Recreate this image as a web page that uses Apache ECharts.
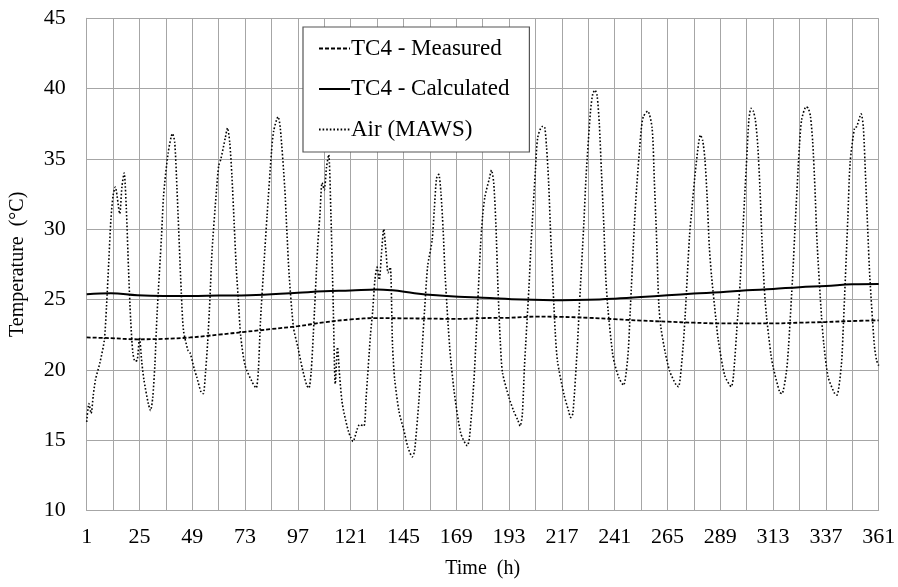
<!DOCTYPE html>
<html>
<head>
<meta charset="utf-8">
<script src="https://cdn.jsdelivr.net/npm/echarts@6/dist/echarts.min.js"></script>
<style>html,body{margin:0;padding:0;background:#fff}#c{width:898px;height:587px}</style>
</head>
<body>
<div id="c"></div>
<script>
// Tick labels of the time axis (hours)
const timeTicks = [1, 25, 49, 73, 97, 121, 145, 169, 193, 217, 241, 265, 289, 313, 337, 361];

// TC4 - Measured (hour, °C)
const measuredTime = [1, 12, 24, 36, 48, 61, 73, 85, 97, 109, 121, 133, 145, 157, 169, 181, 193, 205, 217, 229, 241, 253, 265, 277, 289, 301, 313, 325, 337, 349, 361];
const measuredTemp = [22.3, 22.25, 22.17, 22.2, 22.3, 22.5, 22.7, 22.9, 23.1, 23.38, 23.58, 23.68, 23.66, 23.64, 23.62, 23.68, 23.7, 23.78, 23.76, 23.7, 23.6, 23.5, 23.42, 23.35, 23.3, 23.3, 23.3, 23.35, 23.4, 23.47, 23.52];

// TC4 - Calculated (hour, °C)
const calcTime = [1, 12, 24, 36, 48, 61, 75, 97, 109, 121, 133, 140, 150, 160, 170, 181, 199, 217, 229, 241, 253, 265, 277, 289, 301, 313, 325, 337, 349, 361];
const calcTemp = [25.37, 25.44, 25.3, 25.25, 25.25, 25.28, 25.3, 25.48, 25.58, 25.64, 25.72, 25.65, 25.45, 25.3, 25.2, 25.13, 25.0, 24.95, 24.98, 25.06, 25.17, 25.3, 25.42, 25.52, 25.65, 25.75, 25.88, 25.96, 26.08, 26.1];

// Air (MAWS) (hour, °C)
const airTime = [1,2,3,4,5,7,9,10,11,12,13,14,16,17,18,19,20,21,22,23,24,25,26,27,29,30,31,32,33,35,36,38,40,41,42,44,45,47,48,50,51,53,54,55,56,57,58,60,61,62,64,65,66,67,68,69,70,71,73,76,78,79,80,82,83,85,86,88,89,91,92,93,95,97,99,101,102,103,104,106,107,108,109,110,111,112,113,114,115,116,117,118,120,121,122,124,125,127,128,130,131,132,133,134,135,136,137,138,139,140,141,143,145,147,149,150,152,153,155,156,158,159,160,161,162,163,164,166,168,171,174,175,177,178,180,181,182,184,185,186,187,188,189,190,193,195,197,198,199,200,202,203,205,206,208,209,210,211,212,214,215,218,220,221,222,224,225,227,228,230,231,232,233,234,235,236,237,238,240,241,243,245,247,248,250,251,253,254,256,258,259,260,261,262,264,266,269,270,272,273,275,276,278,280,281,282,283,284,285,287,288,291,294,295,297,298,300,301,302,303,304,305,306,307,308,309,310,312,313,316,317,319,320,322,323,325,326,328,329,330,331,332,333,335,336,338,341,342,344,345,347,348,350,351,353,354,355,356,357,359,360,361];
const airTemp = [16.3,17.6,16.9,18.2,19.3,20.5,22.1,24.5,27.6,30.7,32.4,33.0,31.1,33.0,34.0,31.5,27.2,23.5,21.2,20.6,20.7,22.3,20.6,19.3,17.6,17.1,18.0,20.4,24.0,29.5,32.5,35.4,36.8,36.2,33.0,25.5,22.8,21.4,21.2,20.0,19.5,18.4,18.3,19.8,22.0,25.0,28.5,32.8,34.5,35.0,36.5,37.2,36.2,33.8,30.5,27.2,24.8,22.4,20.3,19.2,18.7,19.9,23.5,28.6,31.0,35.5,37.0,38.0,37.2,33.0,29.8,26.8,23.0,21.6,20.1,18.9,18.7,19.8,22.5,28.8,31.0,33.3,32.8,34.4,35.3,31.1,25.0,19.0,21.6,19.5,17.8,16.9,15.6,15.2,14.9,15.8,16.1,16.0,18.0,22.5,24.2,26.4,27.3,26.4,28.3,30.0,28.5,26.9,27.3,21.8,19.3,17.0,15.8,14.5,13.8,14.2,17.8,20.3,25.3,27.4,29.2,31.4,33.6,33.9,32.6,30.0,26.5,21.6,18.5,15.5,14.6,15.2,19.2,22.3,28.8,31.0,32.3,33.6,34.2,33.3,30.3,25.6,22.0,19.8,18.0,17.1,16.4,16.0,16.8,20.3,25.8,29.0,34.3,36.5,37.3,37.3,35.9,33.2,29.2,22.6,20.6,18.2,17.1,16.6,16.9,21.6,24.7,30.5,33.8,38.4,39.6,39.9,39.5,37.5,34.0,30.5,26.4,24.2,21.2,20.4,19.4,18.9,21.0,24.0,30.5,33.0,37.0,38.0,38.4,37.2,33.5,29.5,24.8,23.0,21.2,19.9,18.9,18.8,21.5,23.8,29.5,31.3,34.6,36.7,36.3,35.0,32.3,28.8,26.7,23.6,22.2,19.6,18.8,19.6,24.0,26.2,32.1,35.0,37.8,38.6,38.4,37.7,36.0,33.0,29.0,25.8,23.8,21.1,20.2,18.4,18.3,19.8,21.6,27.0,30.2,36.0,37.8,38.7,38.6,38.0,36.2,33.0,29.0,23.8,21.9,19.5,18.3,18.2,20.3,23.4,30.9,34.7,37.2,37.3,38.2,37.3,33.8,30.0,26.5,21.8,20.7,20.3];

const pairs = (t, v) => t.map((h, i) => [h - 1, v[i]]);
const FONT = "'Liberation Serif', 'Times New Roman', serif";
const GRID = '#a6a6a6';

const chart = echarts.init(document.getElementById('c'), null, {renderer: 'canvas'});
chart.setOption({
  animation: false,
  backgroundColor: '#fff',
  textStyle: {fontFamily: FONT, color: '#000'},
  grid: {left: 86.7, top: 18.3, width: 792, height: 492.1, containLabel: false, outerBoundsMode: 'none'},
  legend: {
    orient: 'vertical',
    left: 303, top: 27,
    padding: [10, 20, 11, 15],
    itemGap: 17.5,
    itemWidth: 31, itemHeight: 14,
    backgroundColor: '#fff',
    borderColor: '#555', borderWidth: 1.2,
    itemStyle: {opacity: 0},
    textStyle: {fontFamily: FONT, fontSize: 23, color: '#000', lineHeight: 22, padding: [0, 0, 0, -4]},
    data: ['TC4 - Measured', 'TC4 - Calculated', 'Air (MAWS)']
  },
  xAxis: {
    type: 'value', min: 0, max: 360, interval: 12,
    name: 'Time  (h)', nameLocation: 'middle', nameGap: 48,
    nameTextStyle: {fontFamily: FONT, fontSize: 20, color: '#000'},
    axisLine: {show: true, lineStyle: {color: GRID, width: 1}},
    axisTick: {show: false},
    axisLabel: {
      fontFamily: FONT, fontSize: 22, color: '#000', margin: 16,
      formatter: v => { const h = v + 1; return timeTicks.indexOf(h) >= 0 ? String(h) : ''; }
    },
    splitLine: {show: true, lineStyle: {color: GRID, width: 1}}
  },
  yAxis: {
    type: 'value', min: 10, max: 45, interval: 5,
    name: 'Temperature  (°C)', nameLocation: 'middle', nameGap: 59, nameRotate: 90,
    nameTextStyle: {fontFamily: FONT, fontSize: 20, color: '#000'},
    axisLine: {show: true, lineStyle: {color: GRID, width: 1}},
    axisTick: {show: false},
    axisLabel: {fontFamily: FONT, fontSize: 22, color: '#000', margin: 21},
    splitLine: {show: true, lineStyle: {color: GRID, width: 1}}
  },
  series: [
    {
      name: 'TC4 - Measured', type: 'line', data: pairs(measuredTime, measuredTemp),
      showSymbol: false, symbol: 'none', smooth: 0.4, z: 3,
      lineStyle: {color: '#000', width: 1.8, type: [4, 2]},
      itemStyle: {color: '#000'}
    },
    {
      name: 'TC4 - Calculated', type: 'line', data: pairs(calcTime, calcTemp),
      showSymbol: false, symbol: 'none', smooth: 0.4, z: 3,
      lineStyle: {color: '#000', width: 2, type: 'solid'},
      itemStyle: {color: '#000'}
    },
    {
      name: 'Air (MAWS)', type: 'line', data: pairs(airTime, airTemp),
      showSymbol: false, symbol: 'none', smooth: 0.25, z: 2,
      lineStyle: {color: '#000', width: 1.6, type: [1.6, 2]},
      itemStyle: {color: '#000'}
    }
  ]
});
</script>
</body>
</html>
